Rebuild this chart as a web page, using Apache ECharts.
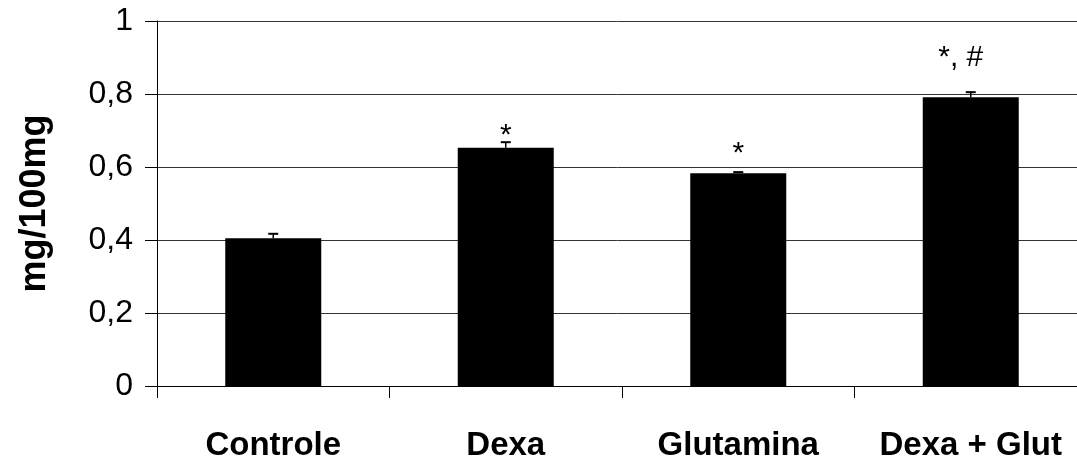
<!DOCTYPE html>
<html>
<head>
<meta charset="utf-8">
<script src="https://cdn.jsdelivr.net/npm/echarts@6/dist/echarts.min.js"></script>
<style>
html,body{margin:0;padding:0;background:#fff;}
#chart{width:1077px;height:459px;}
</style>
</head>
<body>
<div id="chart"></div>
<script>
const categories = ['Controle', 'Dexa', 'Glutamina', 'Dexa + Glut'];
const values = [0.405, 0.653, 0.583, 0.791];
const errors = [0.012, 0.015, 0.003, 0.014];
const annotations = ['', '*', '*', '*, #'];
const yTicks = [0, 0.2, 0.4, 0.6, 0.8, 1];

const annotationLayout = [
  {distance: 0, offset: [0, 0]},
  {distance: -3, offset: [0, 0]},
  {distance: 4, offset: [0, 0]},
  {distance: 25, offset: [-10, 0]}
];

const chart = echarts.init(document.getElementById('chart'));
const font = '"Liberation Sans", Arial, sans-serif';

chart.setOption({
  animation: false,
  grid: {left: 157, top: 21, bottom: 73, right: -10, containLabel: false, outerBoundsMode: 'none'},
  xAxis: {
    type: 'category',
    data: categories,
    boundaryGap: true,
    axisLine: {show: true, lineStyle: {color: '#000', width: 1}},
    axisTick: {show: true, length: 12, lineStyle: {color: '#000'}},
    axisLabel: {fontFamily: font, fontWeight: 'bold', fontSize: 33, color: '#000', margin: 43, interval: 0}
  },
  yAxis: {
    type: 'value',
    min: yTicks[0], max: yTicks[yTicks.length - 1], interval: 0.2,
    name: 'mg/100mg',
    nameLocation: 'middle',
    nameRotate: 90,
    nameGap: 104,
    nameTextStyle: {fontFamily: font, fontWeight: 'bold', fontSize: 36, color: '#000'},
    axisLine: {show: true, lineStyle: {color: '#000', width: 1}},
    axisTick: {show: true, length: 12, inside: false, lineStyle: {color: '#000'}},
    axisLabel: {
      fontFamily: font, fontSize: 32, color: '#000', margin: 24,
      formatter: v => String(+v.toFixed(1)).replace('.', ',')
    },
    splitLine: {show: true, lineStyle: {color: '#333', width: 1}}
  },
  series: [
    {
      type: 'bar',
      data: values.map((v, i) => ({
        value: v,
        label: {
          show: annotations[i] !== '',
          position: 'top',
          distance: annotationLayout[i].distance,
          offset: annotationLayout[i].offset,
          formatter: annotations[i],
          fontFamily: font, fontSize: 30, color: '#000'
        }
      })),
      barWidth: 96,
      itemStyle: {color: '#000'},
      z: 2
    },
    {
      type: 'custom',
      data: values.map((v, i) => [i, v, errors[i]]),
      renderItem: function (params, api) {
        const x = api.coord([api.value(0), 0])[0];
        const yTop = api.coord([api.value(0), api.value(1) + api.value(2)])[1];
        const yBase = api.coord([api.value(0), api.value(1)])[1];
        return {
          type: 'group',
          children: [
            {type: 'line', shape: {x1: x, y1: yBase, x2: x, y2: yTop}, style: {stroke: '#000', lineWidth: 1.5}},
            {type: 'line', shape: {x1: x - 5, y1: yTop, x2: x + 5, y2: yTop}, style: {stroke: '#000', lineWidth: 2}}
          ]
        };
      },
      z: 3
    }
  ]
});
</script>
</body>
</html>
